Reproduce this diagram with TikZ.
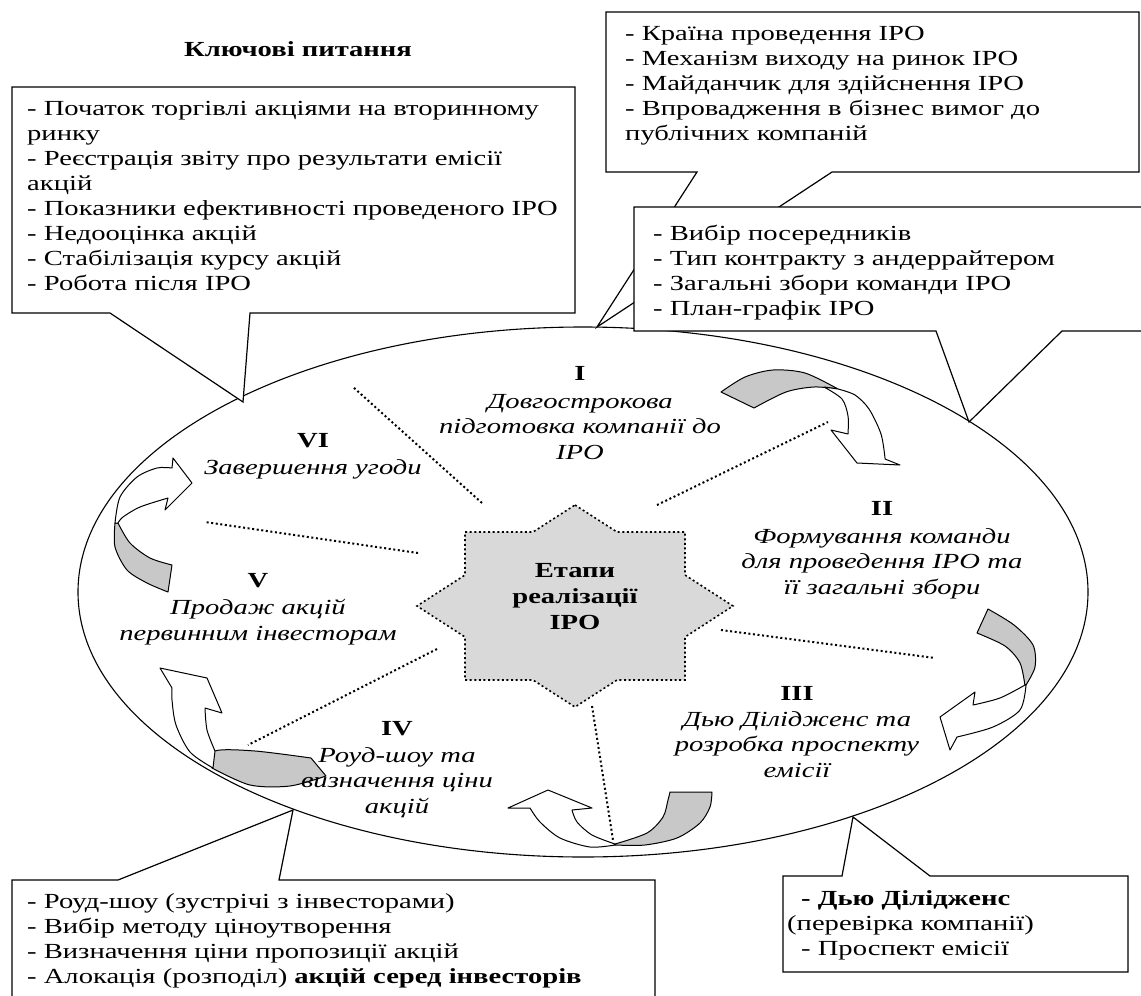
\documentclass[tikz,border=0pt]{standalone}
\usepackage{fontspec}
\setmainfont[FakeStretch = 1.33]{Liberation Serif}

\begin{document}
\begin{tikzpicture}[x = 1pt, y = -1pt,
  callout/.style = {draw, fill = white, line width = 1.2pt},
  listtext/.style = {anchor = base west, align = left, inner sep = 0pt, font = \fontsize{21.5}{25}\selectfont},
  stagenum/.style = {anchor = base, inner sep = 0pt, font = \fontsize{21.5}{26}\selectfont\bfseries},
  stagename/.style = {anchor = base, align = center, inner sep = 0pt, font = \fontsize{21.5}{25.5}\selectfont\itshape},
  divider/.style = {line width = 2pt, dash pattern = on 2pt off 2.6pt},
  backband/.style = {draw, line width = 1pt, fill = gray!43, line join = round},
  frontband/.style = {draw, line width = 1pt, fill = white, line join = round}]
\useasboundingbox (0, 0) rectangle (1141, 996);
\clip (0, 0) rectangle (1141, 996);

\draw[line width = 1.1pt] (583, 592) ellipse (505 and 265);

\coordinate (tipTL) at (243, 402);
\coordinate (tipTR) at (597, 327);
\coordinate (tipMR) at (969, 422);
\coordinate (tipBL) at (293, 810);
\coordinate (tipBR) at (853, 817);

% callout boxes
\draw[callout] (12, 87) -- (575, 87) -- (575, 313) -- (250, 313) -- (tipTL) -- (110, 313) -- (12, 313) -- cycle;
\draw[callout] (606, 12) -- (1139, 12) -- (1139, 172) -- (832, 172) -- (tipTR) -- (697, 172) -- (606, 172) -- cycle;
\draw[callout] (634, 207) -- (1150, 207) -- (1150, 331) -- (1062, 331) -- (tipMR) -- (936, 331) -- (634, 331) -- cycle;
\draw[callout] (12, 880) -- (118, 880) -- (tipBL) -- (279, 880) -- (655, 880) -- (655, 1010) -- (12, 1010) -- cycle;
\draw[callout] (783, 876) -- (842, 876) -- (tipBR) -- (930, 876) -- (1128, 876) -- (1128, 972) -- (783, 972) -- cycle;

% dotted dividers
\draw[divider] (482, 503) -- (353, 387);
\draw[divider] (657, 505) -- (828, 422);
\draw[divider] (418, 553) -- (205, 522);
\draw[divider] (721, 630) -- (935, 658);
\draw[divider] (437, 649) -- (248, 745);
\draw[divider] (592, 706) -- (613, 840);

% star
\draw[divider, line width = 1.6pt, fill = gray!30] (575, 505) -- (617, 532) -- (685, 532) -- (685, 575) -- (733, 606) -- (685, 637) -- (685, 680) -- (617, 680) -- (575, 707) -- (533, 680) -- (465, 680) -- (465, 637) -- (417, 606) -- (465, 575) -- (465, 532) -- (533, 532) -- cycle;
\node (stages) at (575, 629) [stagenum, align = center] {Етапи\\ реалізації\\ IPO};

% curved arrows
\draw[backband] plot[smooth] coordinates {(721, 392) (745, 377) (773, 370) (805, 373) (838, 389)} -- plot[smooth] coordinates {(838, 389) (814, 387) (786, 392) (754, 408)} -- cycle;
\draw[frontband] plot[smooth] coordinates {(824, 387) (842, 399) (848, 416) (848, 434)} -- (831, 430) -- (857, 463) -- (900, 465) -- (885, 459) -- plot[smooth] coordinates {(885, 458) (881, 434) (869, 409) (855, 395) (838, 389)} -- cycle;

\draw[backband] (977, 633) -- plot[smooth] coordinates {(988, 609) (1014, 625) (1033, 645) (1035, 667) (1026, 685)} -- plot[smooth] coordinates {(1025, 686) (1020, 663) (1005, 646) (977, 633)} -- cycle;
\draw[frontband] plot[smooth] coordinates {(1026, 685) (1020, 710) (993, 727) (957, 737)} -- (950, 750) -- (940, 717) -- (975, 692) -- (973, 705) -- plot[smooth] coordinates {(973, 705) (1000, 698) (1025, 685)} -- cycle;

\draw[backband] (670, 792) -- (712, 792) -- plot[smooth] coordinates {(712, 792) (710, 807) (700, 823) (677, 838) (645, 845) (615, 845)} -- plot[smooth] coordinates {(615, 844) (647, 833) (663, 817) (668, 800) (670, 792)} -- cycle;
\draw[frontband] plot[smooth] coordinates {(615, 845) (590, 847) (560, 838) (540, 822) (530, 808)} -- (508, 808) -- (548, 790) -- (592, 808) -- (572, 810) -- plot[smooth] coordinates {(572, 810) (577, 822) (592, 835) (615, 844)} -- cycle;

\draw[backband] (311, 758) -- (326, 776) -- plot[smooth] coordinates {(326, 776) (290, 786) (250, 785) (212, 768)} -- plot[smooth] coordinates {(212, 768) (215, 751) (255, 751) (311, 758)} -- cycle;
\draw[frontband] plot[smooth] coordinates {(213, 768) (190, 752) (176, 725) (172, 700) (172, 688)} -- (160, 668) -- (207, 678) -- (222, 713) -- (205, 708) -- plot[smooth] coordinates {(205, 708) (207, 730) (215, 751)} -- cycle;

\draw[backband] plot[smooth] coordinates {(115, 523) (115, 547) (127, 570) (147, 583) (168, 592)} -- (172, 565) -- plot[smooth] coordinates {(172, 565) (150, 558) (130, 543) (118, 523)} -- cycle;
\draw[frontband] plot[smooth] coordinates {(115, 523) (120, 497) (137, 477) (157, 468) (172, 468)} -- (173, 458) -- (192, 483) -- (165, 510) -- (168, 498) -- plot[smooth] coordinates {(168, 498) (140, 507) (123, 517) (118, 523)} -- cycle;

% stage labels (anchored at the baseline of the last line)
\node (numI) at (580, 380) [stagenum] {I};
\node (nameI) at (580, 459) [stagename] {Довгострокова\\ підготовка компанії до\\ IPO};
\node (numII) at (882, 515) [stagenum] {II};
\node (nameII) at (882, 594) [stagename] {Формування команди\\ для проведення IPO та\\ її загальні збори};
\node (numIII) at (797, 700) [stagenum] {III};
\node (nameIII) at (797, 777) [stagename] {Дью Діліджeнс та\\ розробка проспекту\\ емісії};
\node (numIV) at (397, 735) [stagenum] {IV};
\node (nameIV) at (397, 813) [stagename] {Роуд-шоу та\\ визначення ціни\\ акцій};
\node (numV) at (258, 587) [stagenum] {V};
\node (nameV) at (258, 640) [stagename] {Продаж акцій\\ первинним інвесторам};
\node (numVI) at (313, 447) [stagenum] {VI};
\node (nameVI) at (313, 474) [stagename] {Завершення угоди};

% key questions
\node (keyq) at (298, 56) [stagenum] {Ключові питання};
\node (listTL) at (27, 290) [listtext] {- Початок торгівлі акціями на вторинному\\ ринку\\ - Реєстрація звіту про результати емісії\\ акцій\\ - Показники ефективності проведеного IPO\\ - Недооцінка акцій\\ - Стабілізація курсу акцій\\ - Робота після IPO};
\node (listTR) at (625, 140) [listtext] {- Країна проведення IPO\\ - Механізм виходу на ринок IPO\\ - Майданчик для здійснення IPO\\ - Впровадження в бізнес вимог до\\ публічних компаній};
\node (listMR) at (653, 315) [listtext] {- Вибір посередників\\ - Тип контракту з андеррайтером\\ - Загальні збори команди IPO\\ - План-графік IPO};
\node (listBL) at (27, 983) [listtext] {- Роуд-шоу (зустрічі з інвесторами)\\ - Вибір методу ціноутворення\\ - Визначення ціни пропозиції акцій\\ - Алокація (розподіл) \textbf{акцій серед інвесторів}};
\node (listBR) at (787, 955) [listtext] {\hspace*{14pt}\textbf{- Дью Діліджeнс}\\ (перевірка компанії)\\ \hspace*{14pt}- Проспект емісії};
\end{tikzpicture}
\end{document}
